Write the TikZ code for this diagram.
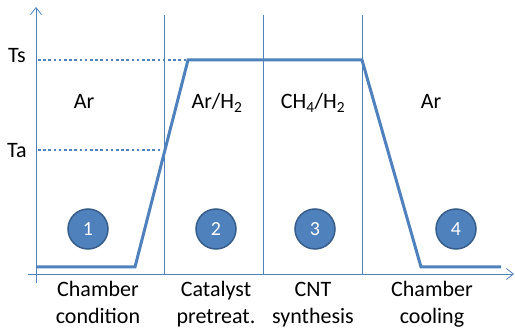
\documentclass[tikz,border=0pt]{standalone}
\usepackage{fontspec}
\setmainfont{Carlito}
\usetikzlibrary{arrows.meta,positioning}
\definecolor{ProcBlue}{RGB}{79,129,189}
\definecolor{ProcBlueBorder}{RGB}{56,93,138}
\tikzset{
  eixo/.style={ProcBlue, line width=0.8pt, -{Straight Barb[length=7pt,width=11pt,line width=0.8pt]}},
  divisor/.style={ProcBlue, line width=0.8pt},
  perfil/.style={ProcBlue, line width=3pt, line join=miter},
  nivel/.style={ProcBlue, line width=2.6pt, dash pattern=on 2.6pt off 2.6pt},
  etapa/.style={circle, fill=ProcBlue, draw=ProcBlueBorder, line width=1.5pt,
                minimum size=40pt, inner sep=0pt, text=white, font=\fontsize{20}{22}\selectfont},
  gas/.style={anchor=base, font=\fontsize{22}{26}\selectfont},
  temp/.style={anchor=base, font=\fontsize{22}{26}\selectfont},
  rotulo/.style={anchor=base, align=center, font=\fontsize{22}{27}\selectfont},
}

\begin{document}
\begin{tikzpicture}[x=1pt,y=-1pt]
  \useasboundingbox (0,0) rectangle (515,331);

  % axes
  \coordinate (ybase) at (36,283);
  \coordinate (ytop)  at (36,7);
  \coordinate (xbase) at (28,274);
  \coordinate (xtop)  at (514,274);
  \draw[eixo] (ybase) -- (ytop);
  \draw[eixo] (xbase) -- (xtop);

  % stage separators
  \coordinate (sep1a) at (164,15);  \coordinate (sep1b) at (164,274);
  \coordinate (sep2a) at (263,15);  \coordinate (sep2b) at (263,274);
  \coordinate (sep3a) at (362,15);  \coordinate (sep3b) at (362,274);
  \draw[divisor] (sep1a) -- (sep1b);
  \draw[divisor] (sep2a) -- (sep2b);
  \draw[divisor] (sep3a) -- (sep3b);

  % temperature profile
  \coordinate (p0) at (36,267);
  \coordinate (p1) at (135,267);
  \coordinate (p2) at (188,60);
  \coordinate (p3) at (362,60);
  \coordinate (p4) at (421,267);
  \coordinate (p5) at (501,267);

  % levels
  \coordinate (tsaxis) at (38,60);
  \coordinate (taaxis) at (38,150);
  \coordinate (taend)  at (162,150);
  \draw[nivel] (tsaxis) -- (p2);
  \draw[nivel] (taaxis) -- (taend);
  \node[temp] (ts) at (17,63)  {Ts};
  \node[temp] (ta) at (17,158) {Ta};

  \draw[perfil] (p0) -- (p1) -- (p2) -- (p3) -- (p4) -- (p5);

  % gases
  \node[gas] (gas1) at (84,109)  {Ar};
  \node[gas] (gas2) at (217,109) {Ar/H\textsubscript{2}};
  \node[gas] (gas3) at (313,109) {CH\textsubscript{4}/H\textsubscript{2}};
  \node[gas] (gas4) at (431,109) {Ar};

  % stage numbers
  \node[etapa] (e1) at (88,229)  {1};
  \node[etapa] (e2) at (216,229) {2};
  \node[etapa] (e3) at (315,229) {3};
  \node[etapa] (e4) at (456,229) {4};

  % stage names
  \node[rotulo] (r1) at (98,324)  {Chamber\\condition};
  \node[rotulo] (r2) at (216,324) {Catalyst\\pretreat.};
  \node[rotulo] (r3) at (313,324) {CNT\\synthesis};
  \node[rotulo] (r4) at (432,324) {Chamber\\cooling};

\end{tikzpicture}
\end{document}
